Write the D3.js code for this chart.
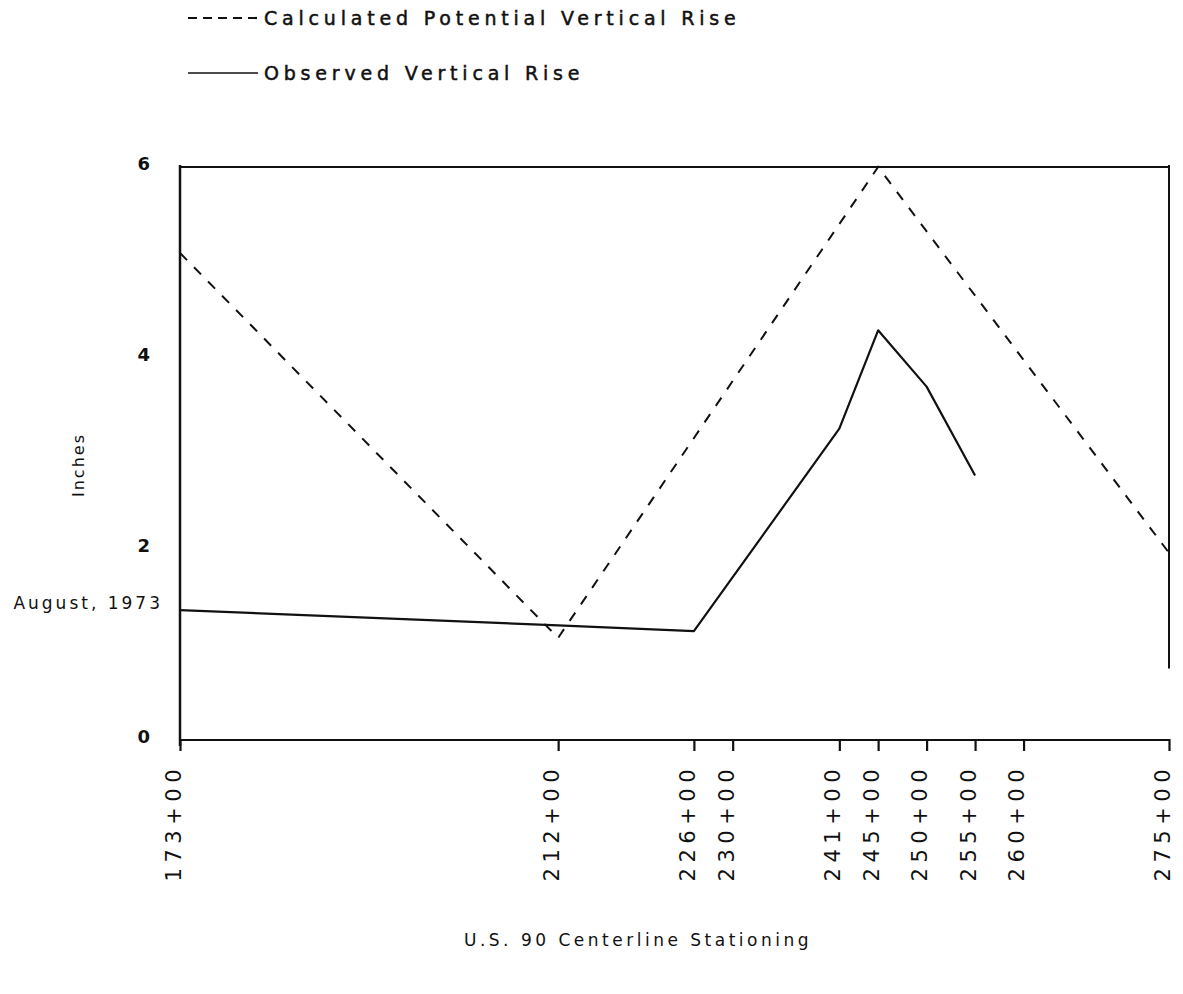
<!DOCTYPE html>
<html>
<head>
<meta charset="utf-8">
<script src="https://cdn.jsdelivr.net/npm/d3@7"></script>
<style>
  html, body { margin: 0; padding: 0; background: #fff; }
  svg { display: block; }
  text { font-family: "DejaVu Sans", sans-serif; fill: #111; }
</style>
</head>
<body>
<svg id="chart" width="1183" height="994"></svg>
<script>
// ---- data ----
const tickStations = [173, 212, 226, 230, 241, 245, 250, 255, 260, 275];
const tickLabels = ["173+00", "212+00", "226+00", "230+00", "241+00", "245+00", "250+00", "255+00", "260+00", "275+00"];
const calcStations = [173, 212, 245, 275];
const calcRise = [5.1, 1.07, 6.0, 1.96];
const obsStations = [173, 212, 226, 241, 245, 250, 255];
const obsRise = [1.36, 1.2, 1.14, 3.26, 4.29, 3.70, 2.77];
const yTicks = [0, 2, 4, 6];
const legendLabels = ["Calculated Potential Vertical Rise", "Observed Vertical Rise"];

const svg = d3.select("#chart");
const x = d3.scaleLinear().domain([173, 275]).range([180, 1169]);
const y = d3.scaleLinear().domain([0, 6]).range([740, 167]);

const ink = "#111";

// frame: top and right
svg.append("line").attr("x1", x(173)).attr("x2", x(275)).attr("y1", y(6)).attr("y2", y(6))
  .attr("stroke", ink).attr("stroke-width", 2);
svg.append("line").attr("x1", x(275)).attr("x2", x(275)).attr("y1", y(6) - 2).attr("y2", y(0.75))
  .attr("stroke", ink).attr("stroke-width", 2);

// bottom axis
const xAxis = d3.axisBottom(x).tickValues(tickStations).tickSize(11).tickFormat("");
const gx = svg.append("g").attr("transform", `translate(0,${y(0)})`).call(xAxis);
gx.select(".domain").attr("stroke", ink).attr("stroke-width", 2).attr("d", `M${x(173)},0H${x(275)}`);
gx.selectAll(".tick line").attr("stroke", ink).attr("stroke-width", 2.2).attr("y1", -1);

gx.selectAll(".tick").append("text")
  .data(tickLabels)
  .attr("transform", "translate(-7,24) rotate(-90)")
  .attr("text-anchor", "end")
  .attr("dy", "0.35em")
  .style("font-size", "21px")
  .style("letter-spacing", "5.5px")
  .text(d => d);

// left axis
const yAxis = d3.axisLeft(y).tickValues(yTicks).tickSize(0).tickPadding(30).tickFormat(d3.format("d"));
const gy = svg.append("g").attr("transform", `translate(${x(173)},0)`).call(yAxis);
gy.select(".domain").attr("stroke", ink).attr("stroke-width", 2.5).attr("d", `M0,${y(6) - 2}V${y(0) + 6}`);
gy.selectAll(".tick text")
  .attr("dy", "0.15em")
  .style("font-size", "18px")
  .style("font-weight", "bold")
  .style("font-family", "'DejaVu Sans', sans-serif")
  .attr("fill", ink);

// y label
svg.append("text")
  .attr("transform", `translate(84,465) rotate(-90)`)
  .attr("text-anchor", "middle")
  .style("font-size", "16px")
  .style("letter-spacing", "2px")
  .text("Inches");

// August, 1973
svg.append("text")
  .attr("x", 163).attr("y", 603).attr("dy", "0.35em")
  .attr("text-anchor", "end")
  .style("font-size", "17px")
  .style("letter-spacing", "3px")
  .text("August, 1973");

// lines
const line = d3.line().x(d => x(d[0])).y(d => y(d[1]));
svg.append("path")
  .datum(calcStations.map((s, i) => [s, calcRise[i]]))
  .attr("d", line).attr("fill", "none").attr("stroke", ink)
  .attr("stroke-width", 2).attr("stroke-dasharray", "10,10");
svg.append("path")
  .datum(obsStations.map((s, i) => [s, obsRise[i]]))
  .attr("d", line).attr("fill", "none").attr("stroke", ink)
  .attr("stroke-width", 2.2).attr("stroke-linejoin", "round");

// legend
const lg = svg.append("g");
[0, 1].forEach(i => {
  const ly = i === 0 ? 18 : 73;
  lg.append("line").attr("x1", 188).attr("x2", 258).attr("y1", ly).attr("y2", ly)
    .attr("stroke", ink).attr("stroke-width", i === 0 ? 2.2 : 1.5)
    .attr("stroke-dasharray", i === 0 ? "9,6" : null);
  lg.append("text").attr("x", 264).attr("y", ly).attr("dy", "0.35em")
    .style("font-size", "19px").style("letter-spacing", "4.8px")
    .style("stroke", ink).style("stroke-width", "0.5px")
    .text(legendLabels[i]);
});

// x title
svg.append("text")
  .attr("x", 638).attr("y", 940).attr("dy", "0.35em")
  .attr("text-anchor", "middle")
  .style("font-size", "17px").style("letter-spacing", "3.5px")
  .text("U.S. 90  Centerline  Stationing");
</script>
</body>
</html>
